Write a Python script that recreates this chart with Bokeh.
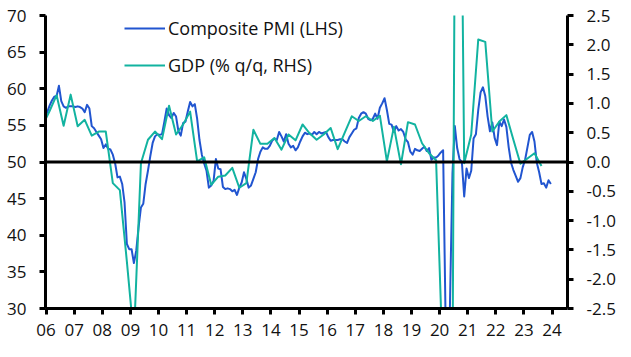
from bokeh.plotting import figure
from bokeh.models import (Range1d, LinearAxis, FixedTicker, NumeralTickFormatter,
                          Span, Legend, LegendItem)
from bokeh.embed import file_html
from bokeh.resources import INLINE

# ---------------- data ----------------
# Composite PMI, monthly, starting Dec 2005
pmi_start_year = 2005
pmi_start_month = 12
pmi_values = (
    [56.0] +
    [56.8, 57.7, 58.4, 58.9, 59.0, 60.4, 58.3, 57.6, 57.4, 57.6, 57.6, 57.6] +  # 2006
    [57.5, 57.6, 57.5, 57.3, 56.8, 57.8, 57.3, 54.9, 54.6, 54.1, 53.6, 53.1] +  # 2007
    [51.9, 52.4, 51.8, 51.7, 51.0, 49.8, 47.9, 48.0, 47.0, 44.5, 38.8, 38.1] +  # 2008
    [38.1, 36.2, 37.9, 41.1, 43.8, 44.3, 47.0, 48.8, 50.8, 52.6, 53.5, 53.8] +  # 2009
    [53.7, 53.8, 55.5, 57.3, 56.4, 56.0, 56.7, 56.2, 54.2, 53.6, 55.3, 55.5] +  # 2010
    [56.9, 58.2, 57.6, 57.9, 55.9, 53.0, 51.0, 49.8, 48.8, 46.5, 46.8, 47.4] +  # 2011
    [50.4, 49.1, 49.0, 46.6, 46.3, 46.4, 46.3, 46.0, 46.2, 45.5, 46.5, 47.2] +  # 2012
    [48.6, 47.7, 46.5, 46.8, 47.7, 48.6, 50.4, 51.4, 52.0, 51.8, 51.8, 52.2] +  # 2013
    [52.9, 53.2, 53.0, 54.1, 53.5, 52.8, 53.8, 52.5, 52.0, 52.2, 51.6, 52.0] +  # 2014
    [52.8, 53.5, 54.0, 53.8, 53.9, 53.7, 54.1, 53.8, 54.1, 53.9, 54.0, 54.1] +  # 2015
    [53.4, 52.9, 53.0, 53.0, 53.0, 53.1, 53.1, 52.8, 52.6, 53.4, 53.9, 54.4] +  # 2016
    [54.6, 56.0, 56.6, 56.8, 56.6, 55.9, 55.7, 55.9, 56.6, 55.9, 57.4, 58.0] +  # 2017
    [58.7, 57.1, 55.2, 55.1, 54.1, 54.9, 54.3, 54.5, 54.1, 53.1, 52.7, 51.4] +  # 2018
    [51.0, 51.8, 51.6, 51.5, 51.8, 52.1, 51.5, 51.9, 50.3, 50.6, 50.6, 50.9] +  # 2019
    [51.3, 51.6, 29.7, 13.6, 31.9, 48.5, 54.9, 51.9, 50.4, 50.0, 45.3, 49.1] +  # 2020
    [47.8, 48.8, 53.2, 53.8, 57.1, 59.5, 60.2, 59.0, 56.2, 54.2, 55.4, 53.3] +  # 2021
    [52.3, 55.5, 54.9, 55.8, 54.8, 52.0, 49.9, 48.9, 48.1, 47.3, 47.8, 49.3] +  # 2022
    [50.3, 52.0, 53.7, 54.1, 52.8, 49.9, 48.6, 47.0, 47.1, 46.5, 47.5, 47.0]    # 2023
)

# GDP, % q/q, quarterly, starting Q4 2005
gdp_start_year = 2005
gdp_start_quarter = 4
gdp_values = (
    [0.62] +
    [0.87, 1.14, 0.62, 1.15] +      # 2006
    [0.61, 0.72, 0.45, 0.52] +      # 2007
    [0.52, -0.36, -0.48, -1.70] +   # 2008
    [-3.00, -0.02, 0.38, 0.52] +    # 2009
    [0.39, 0.96, 0.47, 0.64] +      # 2010
    [0.86, 0.01, 0.08, -0.39] +     # 2011
    [-0.25, -0.23, -0.10, -0.44] +  # 2012
    [-0.36, 0.55, 0.31, 0.31] +     # 2013
    [0.41, 0.21, 0.47, 0.37] +      # 2014
    [0.64, 0.49, 0.38, 0.47] +      # 2015
    [0.58, 0.22, 0.50, 0.78] +      # 2016
    [0.70, 0.78, 0.70, 0.79] +      # 2017
    [0.01, 0.60, -0.04, 0.68] +     # 2018
    [0.64, 0.32, 0.15, 0.03] +      # 2019
    [-3.60, -11.50, 12.00, -0.02] + # 2020
    [0.47, 2.09, 2.05, 0.52] +      # 2021
    [0.69, 0.80, 0.38, -0.03] +     # 2022
    [0.06, 0.15, -0.07]             # 2023
)

year_ticks = list(range(2006, 2025))
year_labels = ["06", "07", "08", "09", "10", "11", "12", "13", "14", "15",
               "16", "17", "18", "19", "20", "21", "22", "23", "24"]
left_ticks = [30, 35, 40, 45, 50, 55, 60, 65, 70]
right_ticks = [-2.5, -2.0, -1.5, -1.0, -0.5, 0.0, 0.5, 1.0, 1.5, 2.0, 2.5]

pmi_name = "Composite PMI (LHS)"
gdp_name = "GDP (% q/q, RHS)"

# ---------------- x positions (mid-month / mid-quarter, decimal years) ----------------
pmi_x = []
for i in range(len(pmi_values)):
    m = pmi_start_month - 1 + i
    pmi_x.append(pmi_start_year + (m // 12) + ((m % 12) + 0.5) / 12.0)

gdp_x = []
for i in range(len(gdp_values)):
    q = gdp_start_quarter - 1 + i
    gdp_x.append(gdp_start_year + (q // 4) + ((q % 4) + 0.5) / 4.0)

# ---------------- figure ----------------
BLUE = "#2155d0"
TEAL = "#12b3a0"
FONT = "Open Sans"
FSIZE = "17px"
TXT = "#111111"

p = figure(width=631, height=357, output_backend="svg", toolbar_location=None,
           x_range=Range1d(2005.98, 2024.55), y_range=Range1d(30, 70),
           min_border_left=45, min_border_right=64, min_border_top=15,
           min_border_bottom=49)
p.extra_y_ranges = {"gdp": Range1d(-2.5, 2.5)}
p.outline_line_color = None
p.xgrid.visible = False
p.ygrid.visible = False
p.background_fill_color = "white"
p.border_fill_color = "white"

right_axis = LinearAxis(y_range_name="gdp")
p.add_layout(right_axis, "right")

p.xaxis[0].ticker = FixedTicker(ticks=year_ticks)
p.xaxis[0].major_label_overrides = {t: l for t, l in zip(year_ticks, year_labels)}
p.yaxis[0].ticker = FixedTicker(ticks=left_ticks)
right_axis.ticker = FixedTicker(ticks=right_ticks)
right_axis.formatter = NumeralTickFormatter(format="0.0")

for ax in [p.xaxis[0], p.yaxis[0], right_axis]:
    ax.axis_line_color = "black"
    ax.axis_line_width = 3
    ax.major_tick_line_color = "black"
    ax.major_tick_line_width = 3
    ax.major_tick_out = 6
    ax.major_tick_in = 0
    ax.minor_tick_line_color = None
    ax.major_label_text_font = FONT
    ax.major_label_text_font_size = FSIZE
    ax.major_label_text_color = TXT
    ax.major_label_standoff = 13
p.xaxis[0].major_label_standoff = 9

r_pmi = p.line(pmi_x, pmi_values, line_color=BLUE, line_width=2, line_join="round")
r_gdp = p.line(gdp_x, gdp_values, line_color=TEAL, line_width=2, line_join="round",
               y_range_name="gdp")

zero = Span(location=50, dimension="width", line_color="black", line_width=3)
p.add_layout(zero)

legend = Legend(items=[LegendItem(label=pmi_name, renderers=[r_pmi]),
                       LegendItem(label=gdp_name, renderers=[r_gdp])],
                location=(79, 230), orientation="vertical",
                border_line_color=None, background_fill_alpha=0,
                padding=0, margin=0, spacing=11,
                glyph_width=41, glyph_height=26, label_height=26,
                label_standoff=3, label_text_font=FONT,
                label_text_font_size="18px", label_text_color=TXT)
p.add_layout(legend)

open("out.html", "w").write(file_html(p, INLINE))
